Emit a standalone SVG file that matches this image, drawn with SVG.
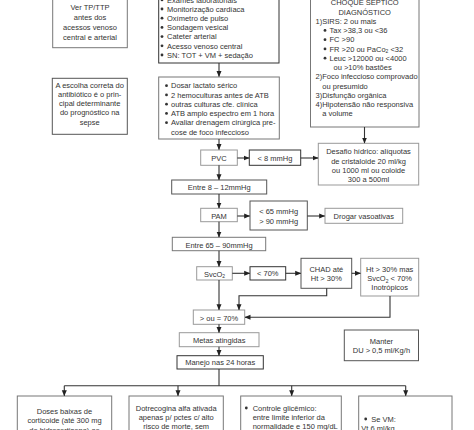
<svg xmlns="http://www.w3.org/2000/svg" width="474" height="430" viewBox="0 0 474 430">
<defs>
<style>
text{font-family:"Liberation Sans",Arial,sans-serif;font-size:7.5px;fill:#333}
.c{text-anchor:middle}
.b{fill:#fff;stroke-width:1}
.k1{stroke:#333}.k2{stroke:#555}.k3{stroke:#777}.k4{stroke:#999}
.ln{fill:none;stroke:#333;stroke-width:1.1}
.dot{fill:#333}
</style>
<marker id="ah" markerWidth="6" markerHeight="6" refX="5.5" refY="3" orient="auto" markerUnits="userSpaceOnUse"><path d="M0,0.5 L6,3 L0,5.5 z" fill="#222"/></marker>
</defs>
<rect width="474" height="430" fill="#fff"/>

<g id="ver-tp">
<rect class="b k3" x="52.7" y="-2" width="74.6" height="49.7"/>
<text class="c" x="90" y="10">Ver TP/TTP</text>
<text class="c" x="90" y="20">antes dos</text>
<text class="c" x="90" y="30">acessos venoso</text>
<text class="c" x="90" y="40">central e arterial</text>
</g>

<g id="escolha">
<rect class="b k2" x="52.3" y="78.3" width="75" height="56"/>
<text class="c" x="89.7" y="87.7">A escolha correta do</text>
<text class="c" x="89.7" y="96.9">antibiótico é o prin-</text>
<text class="c" x="89.7" y="106.1">cipal determinante</text>
<text class="c" x="89.7" y="115.3">do prognóstico na</text>
<text class="c" x="89.7" y="124.5">sepse</text>
</g>

<g id="exames">
<rect class="b k1" x="158.7" y="-9" width="120.3" height="72"/>
<circle class="dot" cx="162" cy="-0.2" r="1.4"/><text x="167" y="2.5">Exames laboratoriais</text>
<circle class="dot" cx="162" cy="9" r="1.4"/><text x="167" y="11.7">Monitorização cardíaca</text>
<circle class="dot" cx="162" cy="18.2" r="1.4"/><text x="167" y="20.9">Oxímetro de pulso</text>
<circle class="dot" cx="162" cy="27.4" r="1.4"/><text x="167" y="30.1">Sondagem vesical</text>
<circle class="dot" cx="162" cy="36.6" r="1.4"/><text x="167" y="39.3">Cateter arterial</text>
<circle class="dot" cx="162" cy="45.8" r="1.4"/><text x="167" y="48.5">Acesso venoso central</text>
<circle class="dot" cx="162" cy="55" r="1.4"/><text x="167" y="57.7">SN: TOT + VM + sedação</text>
</g>

<g id="dosar">
<rect class="b k3" x="158.7" y="77" width="120.6" height="62"/>
<circle class="dot" cx="166.5" cy="85.7" r="1.4"/><text x="171" y="88.4">Dosar lactato sérico</text>
<circle class="dot" cx="166.5" cy="94.9" r="1.4"/><text x="171" y="97.6">2 hemoculturas antes de ATB</text>
<circle class="dot" cx="166.5" cy="104.2" r="1.4"/><text x="171" y="106.9">outras culturas cfe. clínica</text>
<circle class="dot" cx="166.5" cy="113.4" r="1.4"/><text x="171" y="116.1">ATB amplo espectro em 1 hora</text>
<circle class="dot" cx="166.5" cy="122.7" r="1.4"/><text x="171" y="125.4">Avaliar drenagem cirúrgica pre-</text>
<text x="171" y="134.6">cose de foco infeccioso</text>
</g>

<g id="choque">
<rect class="b k3" x="310.5" y="-5" width="108.5" height="132"/>
<text class="c" x="364.7" y="5.4">CHOQUE SÉPTICO</text>
<text class="c" x="364.7" y="14.6">DIAGNÓSTICO</text>
<text x="315.5" y="23.9">1)SIRS: 2 ou mais</text>
<circle class="dot" cx="325" cy="30.4" r="1.4"/><text x="329.5" y="33.1">Tax &gt;38,3 ou &lt;36</text>
<circle class="dot" cx="325" cy="39.7" r="1.4"/><text x="329.5" y="42.4">FC &gt;90</text>
<circle class="dot" cx="325" cy="48.9" r="1.4"/><text x="329.5" y="51.6">FR &gt;20 ou PaCo<tspan font-size="5" dy="1.8">2</tspan><tspan dy="-1.8"> &lt;32</tspan></text>
<circle class="dot" cx="325" cy="58.2" r="1.4"/><text x="329.5" y="60.9">Leuc &gt;12000 ou &lt;4000</text>
<text x="333.5" y="70.1">ou &gt;10% bastões</text>
<text x="315.5" y="79.4">2)Foco infeccioso comprovado</text>
<text x="322.3" y="88.6">ou presumido</text>
<text x="315.5" y="97.9">3)Disfunção orgânica</text>
<text x="315.5" y="107.1">4)Hipotensão não responsiva</text>
<text x="322.3" y="116.4">a volume</text>
</g>

<g id="pvc">
<rect class="b k4" x="200.7" y="150" width="36.6" height="15.3"/>
<text class="c" x="219" y="161">PVC</text>
</g>
<g id="menor8">
<rect class="b k1" x="249.3" y="150" width="51.4" height="15.3"/>
<text class="c" x="275" y="161">&lt; 8 mmHg</text>
</g>
<g id="desafio">
<rect class="b k4" x="318.3" y="143.3" width="100.4" height="41.7"/>
<text class="c" x="368.5" y="154.4">Desafio hídrico: alíquotas</text>
<text class="c" x="368.5" y="163.6">de cristaloide 20 ml/kg</text>
<text class="c" x="368.5" y="172.9">ou 1000 ml ou coloide</text>
<text class="c" x="368.5" y="182.1">300 a 500ml</text>
</g>
<g id="entre8">
<rect class="b k2" x="171.7" y="180" width="95" height="14"/>
<text class="c" x="219.2" y="190">Entre 8 – 12mmHg</text>
</g>
<g id="pam">
<rect class="b k4" x="200.7" y="208.3" width="36.6" height="13.4"/>
<text class="c" x="219" y="218.7">PAM</text>
</g>
<g id="pam-faixa">
<rect class="b k2" x="250" y="201" width="57.3" height="29"/>
<text class="c" x="278.7" y="214.4">&lt; 65 mmHg</text>
<text class="c" x="278.7" y="223.7">&gt; 90 mmHg</text>
</g>
<g id="drogar">
<rect class="b k4" x="325" y="208.3" width="77.7" height="15"/>
<text class="c" x="363.8" y="219">Drogar vasoativas</text>
</g>
<g id="entre65">
<rect class="b k3" x="172.3" y="237.3" width="93.4" height="13.4"/>
<text class="c" x="219" y="247.7">Entre 65 – 90mmHg</text>
</g>
<g id="svco2">
<rect class="b k4" x="196.7" y="266.7" width="35.6" height="13.3"/>
<text class="c" x="214.5" y="276.6">SvcO<tspan font-size="5" dy="1.8">2</tspan></text>
</g>
<g id="menor70">
<rect class="b k1" x="250" y="266.7" width="35.7" height="13.3"/>
<text class="c" x="267.8" y="276.3">&lt; 70%</text>
</g>
<g id="chad">
<rect class="b k2" x="301" y="258.3" width="50.7" height="30"/>
<text class="c" x="326.3" y="272">CHAD até</text>
<text class="c" x="326.3" y="281">Ht &gt; 30%</text>
</g>
<g id="inotropicos">
<rect class="b k4" x="360.7" y="258.3" width="58" height="37.7"/>
<text class="c" x="389.7" y="272">Ht &gt; 30% mas</text>
<text class="c" x="389.7" y="281">SvcO<tspan font-size="5" dy="1.8">2</tspan><tspan dy="-1.8"> &lt; 70%</tspan></text>
<text class="c" x="389.7" y="290">Inotrópicos</text>
</g>
<g id="maior70">
<rect class="b k4" x="193.3" y="310" width="51.4" height="14.3"/>
<text class="c" x="219" y="321">&gt; ou = 70%</text>
</g>
<g id="metas">
<rect class="b k4" x="179.3" y="332.7" width="79.7" height="14"/>
<text class="c" x="219.2" y="342.8">Metas atingidas</text>
</g>
<g id="manejo">
<rect class="b k1" x="177" y="355.7" width="86.3" height="13.3"/>
<text class="c" x="220.2" y="365">Manejo nas 24 horas</text>
</g>
<g id="manter">
<rect class="b k2" x="344.3" y="330" width="74.2" height="30.7"/>
<text class="c" x="381.4" y="344.4">Manter</text>
<text class="c" x="381.4" y="353.4">DU &gt; 0,5 ml/Kg/h</text>
</g>

<g id="corticoide">
<rect class="b k3" x="17.3" y="396" width="94.4" height="40"/>
<text class="c" x="64.5" y="414.4">Doses baixas de</text>
<text class="c" x="64.5" y="423.4">corticoide (até 300 mg</text>
<text class="c" x="64.5" y="432.6">de hidrocortisona) ao</text>
</g>
<g id="drotrecogina">
<rect class="b k3" x="129" y="396" width="94.3" height="40"/>
<text class="c" x="176.2" y="410.7">Dotrecogina alfa ativada</text>
<text class="c" x="176.2" y="419.7">apenas p/ pctes c/ alto</text>
<text class="c" x="176.2" y="428.7">risco de morte, sem</text>
</g>
<g id="glicemia">
<rect class="b k3" x="240.7" y="396" width="100.6" height="40"/>
<circle class="dot" cx="246.3" cy="408" r="1.4"/><text x="252.7" y="410.7">Controle glicêmico:</text>
<text x="252.7" y="419.7">entre limite inferior da</text>
<text x="252.7" y="428.7">normalidade e 150 mg/dL</text>
</g>
<g id="ventilacao">
<rect class="b k3" x="358.7" y="396" width="93.3" height="40"/>
<circle class="dot" cx="365.7" cy="419" r="1.4"/><text x="371.3" y="421.7">Se VM:</text>
<text x="361.3" y="430.7">Vt 6 ml/kg</text>
</g>

<g id="connectors" marker-end="url(#ah)">
<path class="ln" d="M219,63 V76.5" marker-end="url(#ah)"/>
<path class="ln" d="M364.5,127 V143" marker-end="url(#ah)"/>
<path class="ln" d="M219,139 V149.6" marker-end="url(#ah)"/>
<path class="ln" d="M237.3,158 H249" marker-end="url(#ah)"/>
<path class="ln" d="M300.7,158 H318" marker-end="url(#ah)"/>
<path class="ln" d="M219,165.3 V179.7" marker-end="url(#ah)"/>
<path class="ln" d="M219,194 V208" marker-end="url(#ah)"/>
<path class="ln" d="M237.3,216 H249.7" marker-end="url(#ah)"/>
<path class="ln" d="M307.3,216 H324.7" marker-end="url(#ah)"/>
<path class="ln" d="M219,221.7 V237" marker-end="url(#ah)"/>
<path class="ln" d="M219,250.7 V266.4" marker-end="url(#ah)"/>
<path class="ln" d="M232.3,273.3 H249.7" marker-end="url(#ah)"/>
<path class="ln" d="M285.7,273.3 H300.7" marker-end="url(#ah)"/>
<path class="ln" d="M351.7,273.3 H360.4" marker-end="url(#ah)"/>
<path class="ln" d="M219,280 V309.7" marker-end="url(#ah)"/>
<path class="ln" d="M326.7,288.3 V295.7 H239 V309.7" marker-end="url(#ah)"/>
<path class="ln" d="M390,296 V317.3 H245" marker-end="url(#ah)"/>
<path class="ln" d="M219,324.3 V332.4" marker-end="url(#ah)"/>
<path class="ln" d="M219,346.7 V355.4" marker-end="url(#ah)"/>
<path class="ln" d="M219,369 V385.7" marker-end="none"/>
<path class="ln" d="M64.3,385.7 H405.7" marker-end="none"/>
<path class="ln" d="M64.3,385.7 V395.7" marker-end="url(#ah)"/>
<path class="ln" d="M178,385.7 V395.7" marker-end="url(#ah)"/>
<path class="ln" d="M291.7,385.7 V395.7" marker-end="url(#ah)"/>
<path class="ln" d="M405.7,385.7 V395.7" marker-end="url(#ah)"/>
</g>
</svg>
